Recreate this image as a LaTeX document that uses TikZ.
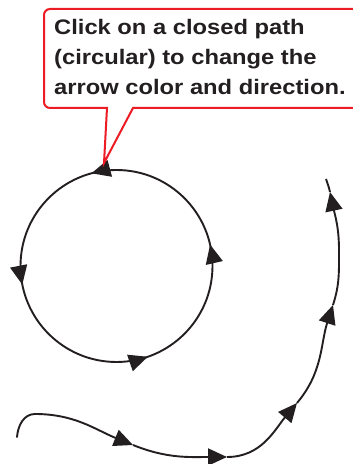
\documentclass[tikz,border=0pt]{standalone}
\usepackage{fontspec}
\newfontfamily\calloutfont[FakeStretch=1.13]{Liberation Sans}
\usetikzlibrary{arrows.meta,decorations.markings}
\definecolor{callred}{HTML}{ED1C24}
\definecolor{ink}{HTML}{231F20}
\tikzset{
  x=1pt,y=1pt,
  pathline/.style={draw=ink,line width=1.9pt},
  tiparrow/.style={-{Triangle[length=19pt,width=17pt]}},
  calloutbox/.style={draw=callred,line width=2pt,fill=white,line join=miter},
  callouttext/.style={anchor=base west,inner sep=0pt,text=ink,font=\calloutfont\bfseries\fontsize{21}{30}\selectfont},
}
\begin{document}
\begin{tikzpicture}
\useasboundingbox (0,0) rectangle (353,464);
% closed circular path
\coordinate (c) at (116.5,198);
\draw[pathline,
  postaction={decorate},
  decoration={markings,
    mark=at position 0.036 with {\arrow[ink]{Triangle[length=19pt,width=17pt]}},
    mark=at position 0.292 with {\arrow[ink]{Triangle[length=19pt,width=17pt]}},
    mark=at position 0.531 with {\arrow[ink]{Triangle[length=19pt,width=17pt]}},
    mark=at position 0.803 with {\arrow[ink]{Triangle[length=19pt,width=17pt]}}}]
  (c) ++(0:96) arc[start angle=0,end angle=360,radius=96];
% open path
\coordinate (p0) at (17,27);
\coordinate (p1) at (35,50);
\coordinate (a1) at (133,19);
\coordinate (a2) at (227,7);
\coordinate (a3) at (297,61);
\coordinate (a4) at (333,159);
\coordinate (p6) at (339,214);
\coordinate (a5) at (330,272);
\coordinate (pe) at (326,285);
\draw[pathline,line cap=round] (p0) to[out=85,in=180] (p1);
\draw[pathline,tiparrow] (p1) to[out=0,in=158] (a1);
\draw[pathline,tiparrow] (a1) to[out=-22,in=180] (a2);
\draw[pathline,tiparrow] (a2) to[out=0,in=230] (a3);
\draw[pathline,tiparrow] (a3) to[out=50,in=252] (a4);
\draw[pathline] (a4) to[out=72,in=270] (p6);
\draw[pathline,tiparrow] (p6) to[out=90,in=-78] (a5);
\draw[pathline] (a5) to[out=102,in=-72] (pe);
% callout
\coordinate (tip) at (104,301);
\path[calloutbox] (107,356) -- (tip) -- (133,356)
  [rounded corners=6pt] -- (372,356) -- (372,455) -- (44,455) -- (44,356) [sharp corners] -- cycle;
\node[callouttext] (l1) at (54,429.7) {Click on a closed path};
\node[callouttext] (l2) at (54,399.5) {(circular) to change the};
\node[callouttext] (l3) at (54,369.5) {arrow color and direction.};
\end{tikzpicture}
\end{document}
